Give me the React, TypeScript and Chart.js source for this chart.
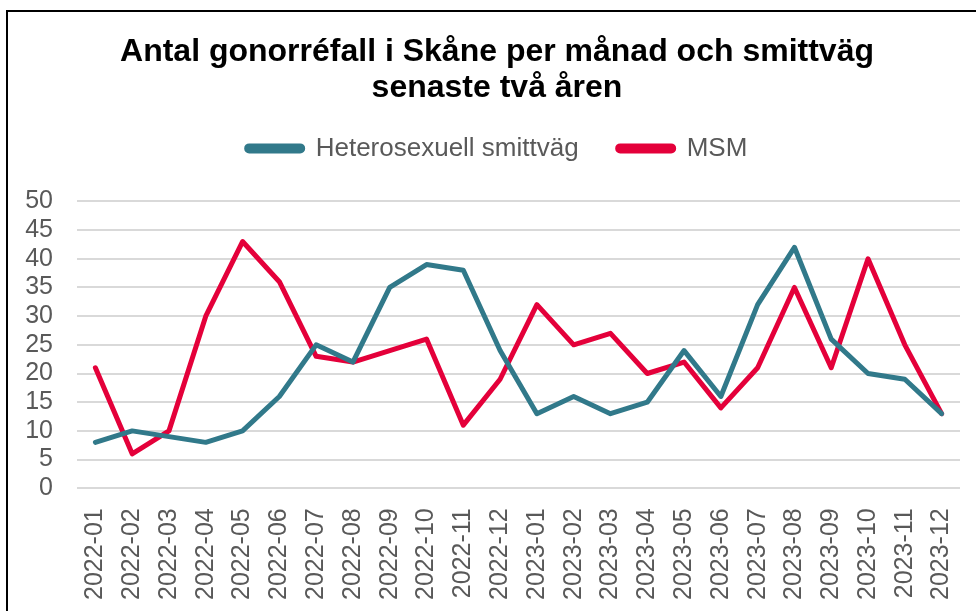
import React, { useEffect, useRef } from "react";
import { Chart, registerables } from "chart.js";

Chart.register(...registerables);

const categories = [
  "2022-01", "2022-02", "2022-03", "2022-04", "2022-05", "2022-06",
  "2022-07", "2022-08", "2022-09", "2022-10", "2022-11", "2022-12",
  "2023-01", "2023-02", "2023-03", "2023-04", "2023-05", "2023-06",
  "2023-07", "2023-08", "2023-09", "2023-10", "2023-11", "2023-12",
];

const heteroValues = [8, 10, 9, 8, 10, 16, 25, 22, 35, 39, 38, 24, 13, 16, 13, 15, 24, 16, 32, 42, 26, 20, 19, 13];
const msmValues = [21, 6, 10, 30, 43, 36, 23, 22, 24, 26, 11, 19, 32, 25, 27, 20, 22, 14, 21, 35, 21, 40, 25, 13];

const seriesNames = ["Heterosexuell smittväg", "MSM"];
const titleLines = ["Antal gonorréfall i Skåne per månad och smittväg", "senaste två åren"];

const FONT = "'Liberation Sans', Arial, sans-serif";
const TEAL = "#31798A";
const RED = "#E4003A";
const GREY = "#595959";

const framePlugin = {
  id: "frame",
  beforeDraw(chart: any) {
    const ctx = chart.ctx;
    ctx.save();
    ctx.fillStyle = "#ffffff";
    ctx.fillRect(0, 0, chart.width, chart.height);
    ctx.strokeStyle = "#000000";
    ctx.lineWidth = 2;
    ctx.strokeRect(7, 11, 3000, 3000);
    ctx.restore();
  },
};

const legendSpacingPlugin = {
  id: "legendSpacing",
  beforeInit(chart: any) {
    const legend = chart.legend;
    if (!legend) return;
    const originalFit = legend.fit;
    legend.fit = function () {
      originalFit.bind(legend)();
      this.height += 30;
    };
  },
};

export default function App() {
  const ref = useRef<HTMLCanvasElement | null>(null);

  useEffect(() => {
    document.body.style.margin = "0";
    document.body.style.overflow = "hidden";
    const canvas = ref.current;
    if (!canvas) return;
    const chart = new Chart(canvas, {
      type: "line",
      data: {
        labels: categories,
        datasets: [
          {
            label: seriesNames[0],
            data: heteroValues,
            borderColor: TEAL,
            backgroundColor: TEAL,
            borderWidth: 5,
            pointRadius: 0,
            tension: 0,
            borderCapStyle: "round",
            borderJoinStyle: "round",
          },
          {
            label: seriesNames[1],
            data: msmValues,
            borderColor: RED,
            backgroundColor: RED,
            borderWidth: 5,
            pointRadius: 0,
            tension: 0,
            borderCapStyle: "round",
            borderJoinStyle: "round",
          },
        ],
      },
      options: {
        responsive: false,
        animation: false,
        devicePixelRatio: 1,
        layout: { padding: { left: 9, right: -9, top: 0, bottom: -9 } },
        plugins: {
          tooltip: { enabled: false },
          title: {
            display: true,
            text: titleLines,
            color: "#000000",
            font: { family: FONT, size: 32, weight: "bold", lineHeight: 1.1 },
            padding: { top: 35, bottom: -9 },
          },
          legend: {
            display: true,
            position: "top",
            labels: {
              color: GREY,
              font: { family: FONT, size: 26 },
              boxWidth: 56,
              boxHeight: 5,
              useBorderRadius: true,
              borderRadius: 2.5,
              padding: 39,
            },
          },
        },
        scales: {
          x: {
            offset: true,
            grid: { display: false, drawTicks: false },
            border: { display: false },
            afterFit: (scale: any) => {
              scale.paddingRight = 16;
              scale.paddingLeft = 0;
            },
            ticks: {
              color: GREY,
              font: { family: FONT, size: 25 },
              minRotation: 90,
              maxRotation: 90,
              autoSkip: false,
              padding: 20,
            },
          },
          y: {
            min: 0,
            max: 50,
            grid: { color: "#D9D9D9", lineWidth: 2, drawTicks: false },
            border: { display: false },
            afterFit: (scale: any) => {
              scale.width = 68;
            },
            ticks: {
              stepSize: 5,
              autoSkip: false,
              color: GREY,
              font: { family: FONT, size: 25 },
              padding: 24,
            },
          },
        },
      },
      plugins: [framePlugin, legendSpacingPlugin],
    });
    return () => chart.destroy();
  }, []);

  return (
    <div style={{ position: "absolute", left: 0, top: 0, width: 976, height: 611 }}>
      <canvas ref={ref} width={976} height={611} />
    </div>
  );
}
